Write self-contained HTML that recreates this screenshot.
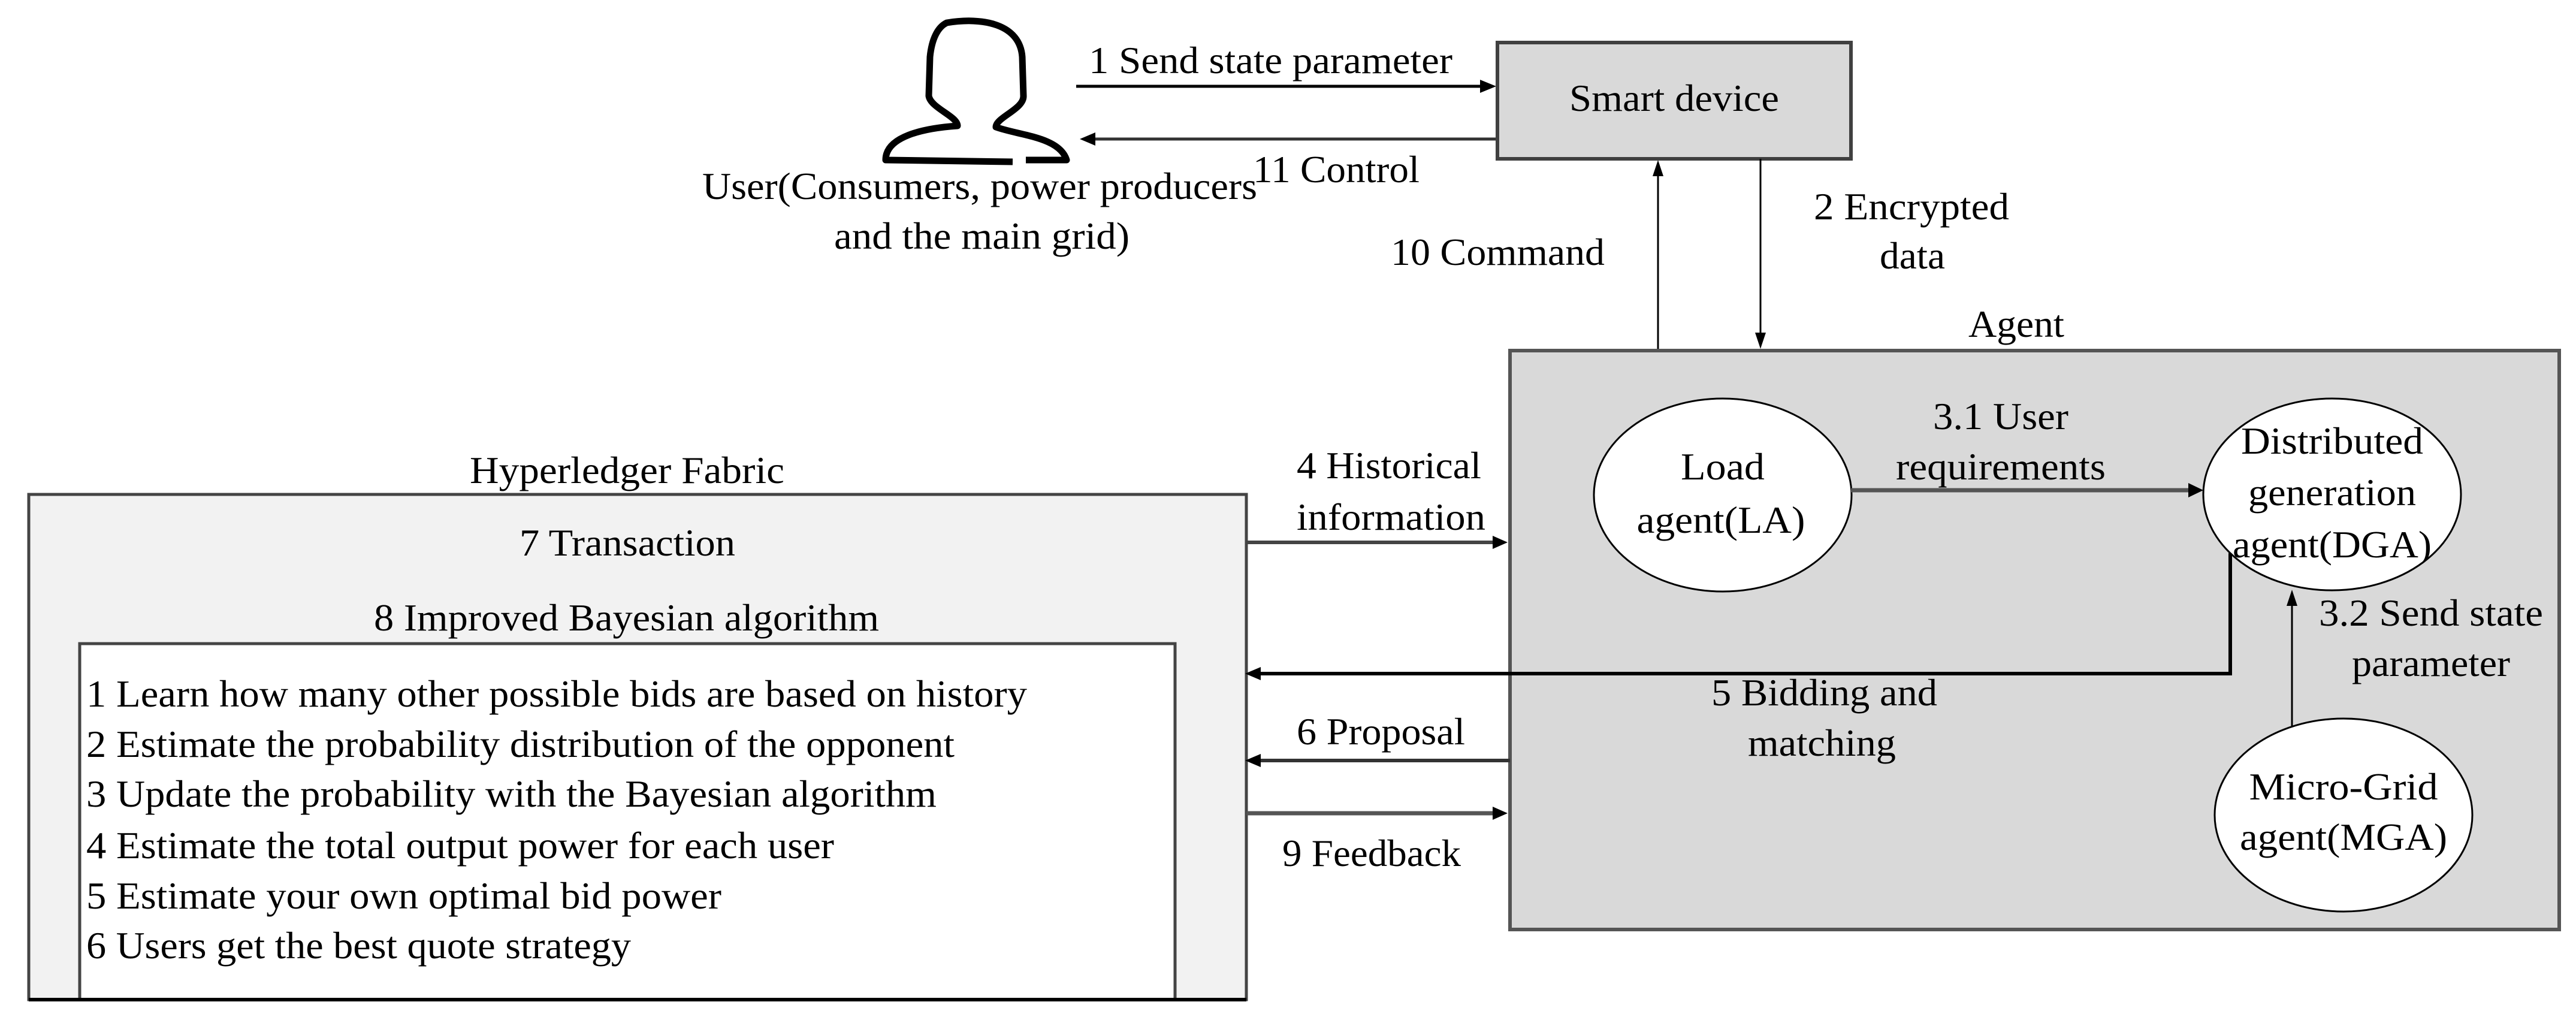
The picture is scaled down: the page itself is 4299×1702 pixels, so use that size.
<!DOCTYPE html>
<html><head><meta charset="utf-8"><style>
html,body{margin:0;padding:0;background:#fff;}
svg{display:block;}
text{font-family:"Liberation Serif",serif;font-size:64px;fill:#000;}
</style></head><body>
<svg width="4299" height="1702" viewBox="0 0 4299 1702" xmlns="http://www.w3.org/2000/svg">
<!-- Person icon -->
<path d="M1690,270 L1478,267 C1478,228 1540,214 1598,210 C1598,194 1553,180 1550,160 L1552,95 C1555,65 1565,45 1580,38 C1640,28 1702,40 1706,95 L1708,160 C1709,182 1662,196 1662,212 C1700,226 1768,228 1780,267 L1712,267" fill="none" stroke="#000" stroke-width="11" stroke-linejoin="round"/>
<text x="1172" y="332" textLength="926" lengthAdjust="spacingAndGlyphs">User(Consumers, power producers</text>
<text x="1392" y="415" textLength="493" lengthAdjust="spacingAndGlyphs">and the main grid)</text>

<!-- Arrow 1 -->
<line x1="1796" y1="144" x2="2475" y2="144" stroke="#000" stroke-width="5"/>
<polygon points="2497,144 2470,133 2470,155" fill="#000"/>
<text x="1817" y="122" textLength="607" lengthAdjust="spacingAndGlyphs">1 Send state parameter</text>
<!-- Arrow 11 -->
<line x1="1822" y1="232" x2="2499" y2="232" stroke="#333" stroke-width="5"/>
<polygon points="1802,232 1828,221 1828,243" fill="#000"/>
<text x="2091" y="304" textLength="278" lengthAdjust="spacingAndGlyphs">11 Control</text>

<!-- Smart device -->
<rect x="2499" y="71" width="590" height="194" fill="#d9d9d9" stroke="#404040" stroke-width="6"/>
<text x="2794" y="185" text-anchor="middle" textLength="350" lengthAdjust="spacingAndGlyphs">Smart device</text>

<!-- Arrow 10 -->
<line x1="2767" y1="585" x2="2767" y2="290" stroke="#000" stroke-width="3"/>
<polygon points="2767,267 2758,294 2776,294" fill="#000"/>
<text x="2321" y="442" textLength="357" lengthAdjust="spacingAndGlyphs">10 Command</text>
<!-- Arrow 2 -->
<line x1="2938" y1="265" x2="2938" y2="558" stroke="#000" stroke-width="3"/>
<polygon points="2938,582 2929,555 2947,555" fill="#000"/>
<text x="3027" y="366" textLength="326" lengthAdjust="spacingAndGlyphs">2 Encrypted</text>
<text x="3137" y="448" textLength="109" lengthAdjust="spacingAndGlyphs">data</text>

<!-- Agent box -->
<text x="3285" y="562" textLength="160" lengthAdjust="spacingAndGlyphs">Agent</text>
<rect x="2520" y="585" width="1751" height="966" fill="#d9d9d9" stroke="#555" stroke-width="6"/>

<!-- Hyperledger box -->
<text x="784" y="806" textLength="525" lengthAdjust="spacingAndGlyphs">Hyperledger Fabric</text>
<rect x="48" y="825" width="2032" height="843" fill="#f2f2f2" stroke="#444" stroke-width="5"/>
<text x="867" y="927" textLength="360" lengthAdjust="spacingAndGlyphs">7 Transaction</text>
<text x="624" y="1052" textLength="843" lengthAdjust="spacingAndGlyphs">8 Improved Bayesian algorithm</text>
<rect x="133" y="1074" width="1828" height="594" fill="#fff" stroke="#444" stroke-width="5"/>
<text x="144" y="1179" textLength="1570" lengthAdjust="spacingAndGlyphs">1 Learn how many other possible bids are based on history</text>
<text x="144" y="1263" textLength="1449" lengthAdjust="spacingAndGlyphs">2 Estimate the probability distribution of the opponent</text>
<text x="144" y="1346" textLength="1419" lengthAdjust="spacingAndGlyphs">3 Update the probability with the Bayesian algorithm</text>
<text x="144" y="1432" textLength="1248" lengthAdjust="spacingAndGlyphs">4 Estimate the total output power for each user</text>
<text x="144" y="1516" textLength="1060" lengthAdjust="spacingAndGlyphs">5 Estimate your own optimal bid power</text>
<text x="144" y="1599" textLength="909" lengthAdjust="spacingAndGlyphs">6 Users get the best quote strategy</text>
<line x1="48" y1="1668" x2="2080" y2="1668" stroke="#000" stroke-width="6"/>

<!-- Arrow 4 -->
<line x1="2080" y1="905" x2="2495" y2="905" stroke="#444" stroke-width="6"/>
<polygon points="2516,905 2491,894 2491,916" fill="#000"/>
<text x="2164" y="798" textLength="308" lengthAdjust="spacingAndGlyphs">4 Historical</text>
<text x="2164" y="884" textLength="315" lengthAdjust="spacingAndGlyphs">information</text>
<!-- Arrow 5 -->
<polyline points="3722,923 3722,1124 2100,1124" fill="none" stroke="#000" stroke-width="6"/>
<polygon points="2078,1124 2104,1113 2104,1135" fill="#000"/>
<text x="2856" y="1177" textLength="377" lengthAdjust="spacingAndGlyphs">5 Bidding and</text>
<text x="2917" y="1261" textLength="247" lengthAdjust="spacingAndGlyphs">matching</text>
<!-- Arrow 6 -->
<line x1="2100" y1="1269" x2="2520" y2="1269" stroke="#333" stroke-width="6"/>
<polygon points="2078,1269 2104,1258 2104,1280" fill="#000"/>
<text x="2164" y="1242" textLength="281" lengthAdjust="spacingAndGlyphs">6 Proposal</text>
<!-- Arrow 9 -->
<line x1="2080" y1="1357" x2="2495" y2="1357" stroke="#555" stroke-width="7"/>
<polygon points="2516,1357 2491,1346 2491,1368" fill="#000"/>
<text x="2140" y="1445" textLength="298" lengthAdjust="spacingAndGlyphs">9 Feedback</text>

<!-- Load agent -->
<ellipse cx="2875" cy="826" rx="215" ry="161" fill="#fff" stroke="#000" stroke-width="3"/>
<text x="2875" y="800" text-anchor="middle" textLength="140" lengthAdjust="spacingAndGlyphs">Load</text>
<text x="2872" y="889" text-anchor="middle" textLength="281" lengthAdjust="spacingAndGlyphs">agent(LA)</text>
<!-- Arrow 3.1 -->
<line x1="3089" y1="818" x2="3655" y2="818" stroke="#555" stroke-width="7"/>
<polygon points="3677,818 3652,806 3652,830" fill="#000"/>
<text x="3226" y="716" textLength="226" lengthAdjust="spacingAndGlyphs">3.1 User</text>
<text x="3164" y="800" textLength="350" lengthAdjust="spacingAndGlyphs">requirements</text>
<!-- DGA -->
<ellipse cx="3892" cy="825" rx="215" ry="160" fill="#fff" stroke="#000" stroke-width="3"/>
<text x="3892" y="757" text-anchor="middle" textLength="304" lengthAdjust="spacingAndGlyphs">Distributed</text>
<text x="3892" y="843" text-anchor="middle" textLength="280" lengthAdjust="spacingAndGlyphs">generation</text>
<text x="3892" y="930" text-anchor="middle" textLength="332" lengthAdjust="spacingAndGlyphs">agent(DGA)</text>
<!-- Arrow 3.2 -->
<line x1="3825" y1="1212" x2="3825" y2="1008" stroke="#000" stroke-width="3"/>
<polygon points="3825,984 3816,1011 3834,1011" fill="#000"/>
<text x="3870" y="1044" textLength="374" lengthAdjust="spacingAndGlyphs">3.2 Send state</text>
<text x="3925" y="1128" textLength="264" lengthAdjust="spacingAndGlyphs">parameter</text>
<!-- MGA -->
<ellipse cx="3911" cy="1360" rx="215" ry="161" fill="#fff" stroke="#000" stroke-width="3"/>
<text x="3911" y="1334" text-anchor="middle" textLength="315" lengthAdjust="spacingAndGlyphs">Micro-Grid</text>
<text x="3911" y="1418" text-anchor="middle" textLength="346" lengthAdjust="spacingAndGlyphs">agent(MGA)</text>
</svg>
</body></html>
